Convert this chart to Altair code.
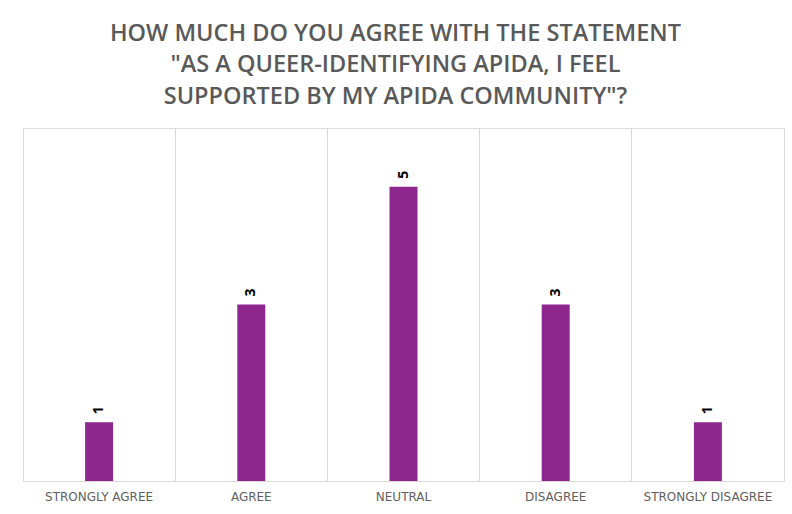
import altair as alt
import pandas as pd

categories = ["STRONGLY AGREE", "AGREE", "NEUTRAL", "DISAGREE", "STRONGLY DISAGREE"]
counts = [1, 3, 5, 3, 1]
title_lines = [
    "HOW MUCH DO YOU AGREE WITH THE STATEMENT",
    "\"AS A QUEER-IDENTIFYING APIDA, I FEEL",
    "SUPPORTED BY MY APIDA COMMUNITY\"?",
]

df = pd.DataFrame({"cat": categories, "n": counts})

x = alt.X("cat:N", sort=categories, title=None,
          scale=alt.Scale(paddingInner=0, paddingOuter=0),
          axis=alt.Axis(labelAngle=0, labelFont="DejaVu Sans", labelFontSize=12,
                        labelColor="#5f5f5f", labelPadding=10, ticks=False,
                        domainColor="#d9d9d9", grid=True, gridColor="#d9d9d9",
                        bandPosition=0))
y = alt.Y("n:Q", title=None, scale=alt.Scale(domain=[0, 6]),
          axis=alt.Axis(orient="right", labels=False, ticks=False, grid=False,
                        domain=True, domainColor="#d9d9d9"))

bars = alt.Chart(df).mark_bar(size=28, color="#8D278E").encode(x=x, y=y)
labels = alt.Chart(df).mark_text(angle=270, align="left", baseline="middle", dx=8,
                                 font="Open Sans", fontWeight="bold", fontSize=14,
                                 color="#000000").encode(x=x, y=y, text="n:Q")

chart = (bars + labels).properties(
    width=761, height=353,
    title=alt.TitleParams(title_lines, anchor="middle", font="Open Sans",
                          fontSize=23.5, fontWeight=600, color="#595959",
                          lineHeight=31.5, offset=20, dx=-8),
    autosize=alt.AutoSizeParams(type="none"),
    padding={"left": 23, "top": 128, "right": 8, "bottom": 33},
).configure_view(stroke=None).configure(background="white")

chart.save("out.html", embed_options={"renderer": "svg", "actions": False})
